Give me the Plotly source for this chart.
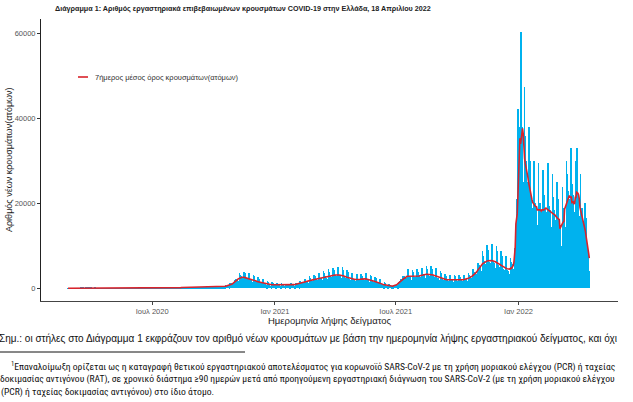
import pandas as pd
import plotly.graph_objects as go

# ---------------- data ----------------
start_date = "2020-02-26"
# daily new cases, one row per week (Wed ... Tue)
daily_cases = [
    1, 2, 1, 3, 2, 6, 9,
    12, 18, 20, 16, 8, 34, 30,
    55, 62, 58, 45, 25, 95, 80,
    78, 76, 72, 60, 32, 125, 115,
    82, 75, 70, 62, 34, 128, 110,
    70, 66, 63, 52, 28, 112, 98,
    42, 38, 36, 30, 16, 64, 56,
    30, 28, 27, 22, 12, 48, 42,
    15, 14, 14, 11, 6, 24, 21,
    10, 10, 9, 8, 4, 16, 14,
    10, 9, 9, 7, 4, 16, 14,
    10, 9, 9, 8, 4, 16, 14,
    8, 8, 7, 6, 3, 13, 11,
    10, 9, 9, 8, 4, 16, 14,
    10, 10, 9, 7, 4, 16, 14,
    12, 11, 11, 9, 5, 19, 17,
    15, 14, 13, 11, 6, 24, 21,
    15, 14, 14, 11, 6, 24, 21,
    20, 19, 18, 15, 8, 32, 28,
    25, 24, 22, 19, 10, 40, 35,
    30, 28, 27, 22, 12, 48, 42,
    40, 38, 36, 30, 16, 64, 56,
    60, 57, 54, 45, 24, 96, 84,
    120, 114, 108, 90, 48, 192, 168,
    200, 190, 180, 150, 80, 320, 280,
    220, 209, 198, 165, 88, 352, 308,
    230, 218, 207, 172, 92, 368, 322,
    220, 209, 198, 165, 88, 352, 308,
    250, 238, 225, 188, 100, 400, 350,
    300, 285, 270, 225, 120, 480, 420,
    300, 285, 270, 225, 120, 480, 420,
    330, 314, 297, 248, 132, 528, 462,
    350, 333, 315, 262, 140, 560, 490,
    450, 428, 405, 338, 180, 720, 630,
    600, 640, 680, 560, 300, 1150, 1050,
    1100, 1150, 1200, 1000, 520, 1950, 1800,
    2100, 2150, 2100, 1750, 900, 3500, 3100,
    2800, 2700, 2600, 2100, 1100, 3800, 3500,
    2500, 2400, 2300, 1900, 1000, 3600, 3300,
    2000, 1900, 1800, 1500, 800, 3100, 2900,
    1600, 1520, 1440, 1200, 640, 2560, 2240,
    1300, 1235, 1170, 975, 520, 2080, 1820,
    1100, 1045, 990, 825, 440, 1760, 1540,
    1000, 800, 500, 600, 350, 1400, 1300,
    900, 750, 500, 700, 400, 1350, 1300,
    800, 760, 720, 600, 320, 1280, 1120,
    700, 665, 630, 525, 280, 1120, 980,
    750, 712, 675, 562, 300, 1200, 1050,
    850, 808, 765, 638, 340, 1360, 1190,
    1100, 1045, 990, 825, 440, 1760, 1540,
    1400, 1330, 1260, 1050, 560, 2240, 1960,
    1800, 1710, 1620, 1350, 720, 2880, 2520,
    2000, 1900, 1800, 1500, 800, 3200, 2800,
    2300, 2185, 2070, 1725, 920, 3680, 3220,
    2500, 2375, 2250, 1875, 1000, 4000, 3500,
    2800, 2660, 2520, 2100, 1120, 4480, 3920,
    3000, 2850, 2700, 2250, 1200, 4800, 4200,
    3200, 3040, 2880, 2400, 1280, 5000, 4500,
    3100, 2945, 2790, 2325, 1240, 4960, 4340,
    2700, 2565, 2430, 2025, 1080, 4320, 3780,
    2300, 2185, 2070, 1725, 920, 3680, 3220,
    2200, 2090, 1980, 1650, 600, 2800, 3300,
    2100, 1995, 1890, 1575, 840, 3360, 2940,
    2300, 2185, 2070, 1725, 920, 3680, 3220,
    2000, 1900, 1800, 1500, 800, 3200, 2800,
    1700, 1615, 1530, 1275, 680, 2720, 2380,
    1300, 1235, 1170, 975, 520, 2080, 1820,
    900, 855, 810, 675, 360, 1440, 1260,
    600, 570, 540, 450, 240, 960, 840,
    500, 475, 450, 375, 200, 800, 700,
    700, 800, 900, 800, 400, 1500, 1400,
    1700, 1900, 2100, 1800, 900, 3000, 2800,
    2800, 2660, 2520, 2100, 1120, 4480, 3920,
    2900, 2700, 2500, 2050, 1100, 4400, 3900,
    2750, 2650, 2550, 2100, 1150, 4500, 3850,
    3000, 2850, 2700, 2250, 1200, 4800, 4200,
    3300, 3135, 2970, 2475, 1320, 5280, 4620,
    3300, 3135, 2970, 2475, 1320, 5280, 4620,
    3000, 2850, 2700, 2250, 1200, 4800, 4200,
    2500, 2375, 2250, 1875, 1000, 4000, 3500,
    2100, 1995, 1890, 1575, 840, 3360, 2940,
    2000, 1900, 1800, 1500, 800, 3200, 2800,
    2050, 1900, 1800, 1450, 820, 3150, 2830,
    2000, 1880, 1820, 1500, 800, 3250, 2750,
    2000, 1900, 1800, 1500, 800, 3200, 2800,
    2200, 2090, 1980, 1650, 880, 3520, 3080,
    2800, 2660, 2520, 2100, 1120, 4480, 3920,
    3800, 3610, 3420, 2850, 1520, 6080, 5320,
    5500, 5225, 4950, 4125, 2200, 8800, 7700,
    6400, 6080, 5760, 4800, 2560, 10240, 8960,
    6600, 6270, 5940, 4950, 2640, 10560, 9240,
    6300, 5985, 5670, 4725, 2520, 10080, 8820,
    5500, 5225, 4950, 4125, 2200, 8800, 7700,
    4800, 4560, 4320, 3600, 1920, 7680, 6720,
    4400, 4180, 3960, 3300, 1760, 7040, 6160,
    5200, 5800, 3500, 4500, 3000, 9500, 11000,
    15000, 21000, 42300, 13000, 11000, 38000, 45000,
    60500, 38000, 33000, 25000, 15000, 47500, 36000,
    30000, 28000, 25000, 20000, 12000, 38000, 30000,
    22000, 21000, 19000, 16000, 9000, 30000, 25000,
    20000, 19000, 17500, 15000, 8500, 29500, 20000,
    20000, 19500, 18000, 14000, 8000, 28000, 22000,
    20500, 19000, 18000, 15000, 8500, 29500, 21000,
    19500, 18500, 17000, 14500, 8000, 27000, 21500,
    18500, 17500, 16000, 13500, 7500, 25000, 21000,
    17000, 16000, 15000, 12500, 7000, 10000, 24000,
    19000, 18000, 17000, 14500, 8000, 30000, 27000,
    23000, 22000, 21000, 17500, 9500, 33000, 24500,
    23000, 22000, 12000, 18000, 10000, 30000, 25000,
    33000, 22000, 20500, 17000, 9500, 27000, 18500,
    19000, 17500, 15500, 13000, 7000, 20000, 16500,
    13000, 10000, 8000, 6500, 4000,
]

y_ticks = [0, 20000, 40000, 60000]
y_tick_labels = ["0", "20000", "40000", "60000"]
x_tick_dates = ["2020-07-01", "2021-01-01", "2021-07-01", "2022-01-01"]
x_tick_labels = ["Ιουλ 2020", "Ιαν 2021", "Ιουλ 2021", "Ιαν 2022"]

title_text = ("Διάγραμμα 1: Αριθμός εργαστηριακά επιβεβαιωμένων κρουσμάτων "
              "COVID-19 στην Ελλάδα, 18 Απριλίου 2022")
legend_text = "7ήμερος μέσος όρος κρουσμάτων(ατόμων)"
y_title = "Αριθμός νέων κρουσμάτων(ατόμων)"
x_title = "Ημερομηνία λήψης δείγματος"
note_text = ("Σημ.: οι στήλες στο Διάγραμμα 1 εκφράζουν τον αριθμό νέων κρουσμάτων "
             "με βάση την ημερομηνία λήψης εργαστηριακού δείγματος, και όχι")
foot_lines = [
    "<sup>1</sup>Επαναλοίμωξη ορίζεται ως η καταγραφή θετικού εργαστηριακού αποτελέσματος "
    "για κορωνοϊό SARS-CoV-2 με τη χρήση μοριακού ελέγχου (PCR) ή ταχείας",
    "δοκιμασίας αντιγόνου (RAT), σε χρονικό διάστημα ≥90 ημερών μετά από προηγούμενη "
    "εργαστηριακή διάγνωση του SARS-CoV-2 (με τη χρήση μοριακού ελέγχου",
    "(PCR) ή ταχείας δοκιμασίας αντιγόνου) στο ίδιο άτομο.",
]

# ---------------- figure ----------------
dates = pd.date_range(start_date, periods=len(daily_cases), freq="D")
cases = pd.Series(daily_cases, index=dates)
avg7 = cases.rolling(7, center=True, min_periods=1).mean()

W, H = 633, 402
ML, MR, MT, MB = 41, 15, 19, 101
PW, PH = W - ML - MR, H - MT - MB


def px(x):
    return (x - ML) / PW


def py(y):
    return (H - MB - y) / PH


fig = go.Figure()
fig.add_trace(go.Bar(x=dates, y=cases.values, marker=dict(color="#00B2EE", line=dict(width=0)),
                     showlegend=False, hoverinfo="x+y"))
fig.add_trace(go.Scatter(x=dates, y=avg7.values, mode="lines",
                         line=dict(color="#D9232B", width=1.6), showlegend=False))

fig.update_layout(
    width=W, height=H,
    margin=dict(l=ML, r=MR, t=MT, b=MB),
    paper_bgcolor="white", plot_bgcolor="white",
    bargap=0,
    font=dict(family="Liberation Sans, Arial, sans-serif", color="#222"),
    xaxis=dict(type="date", range=["2020-01-16 12:00", "2022-05-30"],
               tickvals=x_tick_dates, ticktext=x_tick_labels,
               tickfont=dict(size=7.5, color="#555"),
               ticks="outside", ticklen=3, tickcolor="#444",
               showline=True, linecolor="#444", linewidth=1,
               showgrid=False, zeroline=False),
    yaxis=dict(range=[-3000, 63500], tickvals=y_ticks, ticktext=y_tick_labels,
               tickfont=dict(size=7.5, color="#555"),
               ticks="outside", ticklen=3, tickcolor="#333",
               showline=True, linecolor="#222", linewidth=1,
               showgrid=False, zeroline=False),
)

annos = [
    dict(text=f"<b>{title_text}</b>", x=px(53), y=py(8), xanchor="left", yanchor="middle",
         font=dict(size=7.2, color="#222")),
    dict(text=y_title, x=px(9), y=py(160), xanchor="center", yanchor="middle", textangle=-90,
         font=dict(size=9, color="#222")),
    dict(text=x_title, x=px(330), y=py(320), xanchor="center", yanchor="middle",
         font=dict(size=9.5, color="#222")),
    dict(text=legend_text, x=px(93), y=py(77), xanchor="left", yanchor="middle",
         font=dict(size=7.5, color="#333")),
    dict(text=note_text, x=px(-3), y=py(339), xanchor="left", yanchor="middle",
         font=dict(size=10, color="#111")),
]
foot_y = [366, 379, 392]
foot_x = [9, -2, -1]
for t, yy, xx in zip(foot_lines, foot_y, foot_x):
    annos.append(dict(text=t, x=px(xx), y=py(yy), xanchor="left", yanchor="middle",
                      font=dict(size=9.6, color="#111",
                                family="Liberation Sans Narrow, Roboto Condensed, Arial Narrow, sans-serif")))
for a in annos:
    a.update(xref="paper", yref="paper", showarrow=False)
fig.update_layout(annotations=annos)

fig.update_layout(shapes=[
    dict(type="line", xref="paper", yref="paper", x0=px(78), x1=px(88), y0=py(77), y1=py(77),
         line=dict(color="#D9232B", width=1.6)),
    dict(type="line", xref="paper", yref="paper", x0=px(0), x1=px(245), y0=py(352), y1=py(352),
         line=dict(color="#111", width=1)),
])

fig.write_html("out.html", config={"displayModeBar": False},
               post_script="document.body.style.margin='0';document.body.style.overflow='hidden';")
